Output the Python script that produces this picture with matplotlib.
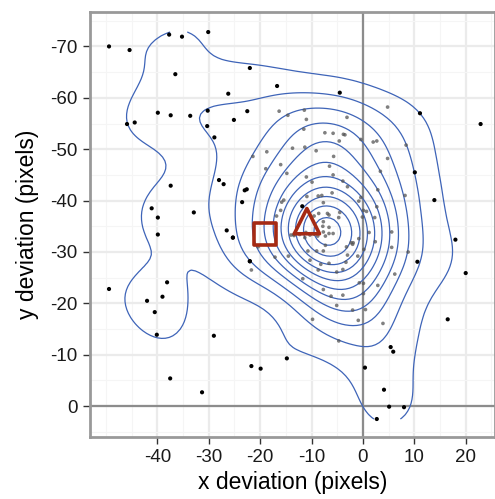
import numpy as np
import matplotlib
matplotlib.use("Agg")
import matplotlib.pyplot as plt
from matplotlib.ticker import MultipleLocator

plt.rcParams['font.family'] = ['Liberation Sans', 'DejaVu Sans']

# outer (black) points
bx = [-49.4, -45.4, -37.7, -35.2, -30.1, -36.5, -22.0, -26.2, -16.7, -39.9, -37.4, -33.6, -30.2, -22.5,
      -45.9, -44.4, -30.3, -25.1, -28.9, -37.4, -28.0, -27.1, -23.0, -22.6, -23.5, -41.1, -39.9, -39.9,
      -32.9, -26.5, -25.3, -22.0, -38.1, -49.4, -42.0, -39.0, -40.5, -40.1, -29.0, -21.7, -19.9, -14.8,
      -37.5, -31.3, -4.5, 11.1, 22.9, 10.1, 13.9, 10.6, 18.0, 20.0, 16.5, 5.4, 5.9, 0.4, 4.1, 5.1, 8.0, 2.7,
      -25.3, -22.0, -11.8]
by = [-70.0, -69.3, -72.3, -71.9, -72.8, -64.6, -65.8, -60.8, -62.3, -57.1, -56.6, -56.5, -57.5, -57.4,
      -54.9, -55.2, -54.5, -55.7, -52.3, -42.9, -44.0, -43.2, -42.0, -42.2, -39.7, -38.5, -36.7, -33.4,
      -37.7, -34.2, -32.8, -28.2, -24.1, -22.8, -20.5, -21.3, -18.3, -13.9, -13.7, -7.8, -7.3, -9.3,
      -5.4, -2.7, -61.0, -57.0, -54.9, -45.5, -40.1, -28.1, -32.4, -25.9, -16.9, -11.5, -10.6, -7.5, -3.2, 0.1, 0.2, 2.5,
      -32.8, -28.2, -38.9]

# inner (grey) points
gx = [-16.3, -14.6, -21.4, -18.7, -18.9, -16.0, -14.8, -21.7, -20.4, -17.1, 4.8, -11.4, -3.1, -11.0, -11.5,
      -7.4, -5.8, -3.8, -3.5, -0.4, 2.7, 8.4, -4.6, -13.7, -11.3, -9.1, -5.7, 4.8, -6.5, 3.4, -5.8, -11.0,
      -9.9, -3.9, -3.0, 2.9, 8.2, -8.7, -8.0, -6.0, -0.4, -0.8, 2.7, -7.7, -4.5, -6.9, -6.6, -9.5, 0.1, 0.7,
      -0.1, 2.3, -7.7, -6.6, -7.7, -7.3, -6.6, -5.8, -11.1, -10.3, -9.5, -8.8, -12.3, -13.5, -11.3, 1.2, 5.6,
      -2.3, -1.9, -0.8, 2.4, 8.8, 5.6, 0.2, -10.7, -9.0, -7.7, -3.2, -3.0, -1.0, -10.3, -8.2, -6.6, -3.3,
      -5.1, -3.9, -8.7, 6.2, -11.7, -0.7, 0.1, 2.9, -7.7, -6.2, -3.9, 0.1, -5.1, -2.0, 0.5, -0.9, -9.8, 3.9,
      -4.7, -15.8, -15.4, -16.0, -16.8, -4.7, -8.6, -14.0, -13.4, -7.8, -7.3, -14.5, -2.0, 2.0, -10.9]
gy = [-57.4, -56.6, -48.6, -49.5, -46.2, -47.0, -45.3, -26.5, -31.0, -29.0, -58.2, -57.6, -56.2, -55.8, -53.9,
      -53.2, -53.1, -52.9, -52.8, -51.9, -51.6, -50.8, -51.6, -50.2, -50.4, -49.7, -48.6, -48.2, -46.7, -45.7, -45.0, -44.6,
      -43.6, -43.8, -42.7, -42.1, -41.0, -40.9, -41.0, -41.5, -40.6, -39.9, -38.8, -39.6, -37.7, -37.5, -37.2, -37.0, -38.1, -37.9,
      -36.8, -36.7, -35.9, -34.8, -33.9, -33.1, -33.6, -33.6, -33.8, -33.3, -33.5, -33.1, -33.4, -33.4, -32.8, -33.8, -33.9,
      -31.8, -31.8, -32.6, -32.0, -30.0, -30.9, -30.5, -30.2, -30.2, -30.2, -31.0, -29.4, -29.2, -28.4, -27.6, -27.8, -28.0,
      -26.1, -26.6, -26.5, -25.7, -24.8, -24.0, -23.9, -23.5, -22.7, -21.4, -21.6, -21.9, -19.6, -18.7, -18.8, -16.7, -16.9, -16.1,
      -12.7, -39.7, -40.1, -38.1, -37.0, -36.7, -37.5, -33.3, -33.2, -35.0, -31.3, -29.2, -31.5, -51.4, -40.8]

# reference markers
sq_x, sq_y = [-19.1], [-33.5]
tri_x, tri_y = [-10.9], [-36.0]

xticks = [-40, -30, -20, -10, 0, 10, 20]
yticks = [-70, -60, -50, -40, -30, -20, -10, 0]

ax_all = np.array(bx + gx)
ay_all = np.array(by + gy)


def bw_nrd(v):
    n = len(v)
    q = np.percentile(v, [25, 75])
    h = (q[1] - q[0]) / 1.34
    return 4 * 1.06 * min(np.std(v, ddof=1), h) * n ** (-0.2)


hx = bw_nrd(ax_all) / 4 * 1.05
hy = bw_nrd(ay_all) / 4 * 1.05
gxs = np.linspace(ax_all.min(), ax_all.max(), 100)
gys = np.linspace(ay_all.min(), ay_all.max(), 100)
GX, GY = np.meshgrid(gxs, gys)
Z = np.zeros_like(GX)
for px, py in zip(ax_all, ay_all):
    Z += np.exp(-0.5 * (((GX - px) / hx) ** 2 + ((GY - py) / hy) ** 2))
Z /= (len(ax_all) * 2 * np.pi * hx * hy)

nlev = 11
step = Z.max() / (nlev + 0.5)
levels = step * np.arange(1, nlev + 1)
levels[0] = step * 0.97

fig = plt.figure(figsize=(4.95, 4.99), dpi=100)
ax = fig.add_axes([90 / 495, 1 - 437 / 499, 405 / 495, 425 / 499])

ax.set_xlim(-53.1, 25.7)
ax.set_ylim(6.0, -76.7)

ax.xaxis.set_minor_locator(MultipleLocator(5))
ax.yaxis.set_minor_locator(MultipleLocator(5))
ax.set_xticks(xticks)
ax.set_yticks(yticks)
ax.set_xticklabels([str(t) for t in xticks])
ax.set_yticklabels([str(t) for t in yticks])
ax.grid(which='major', color='#ebebeb', lw=1.6, zorder=0)
ax.grid(which='minor', color='#f5f5f5', lw=0.8, zorder=0)
ax.set_axisbelow(True)

ax.axvline(0, color='#8c8c8c', lw=1.6, zorder=1)
ax.axhline(0, color='#8c8c8c', lw=1.6, zorder=1)

ax.contour(GX, GY, Z, levels=levels, colors='#3e64b8', linewidths=0.9, zorder=2)

ax.scatter(gx, gy, s=7, color='#555555', alpha=0.75, edgecolors='none', zorder=3)
ax.scatter(bx, by, s=9, color='black', edgecolors='none', zorder=3)

ax.scatter(sq_x, sq_y, marker='s', s=260, facecolors='none', edgecolors='#a52a14', linewidths=2.6, zorder=4)
ax.scatter(tri_x, tri_y, marker='^', s=330, facecolors='none', edgecolors='#a52a14', linewidths=2.6, zorder=4)

for sp in ax.spines.values():
    sp.set_color('#999999')
    sp.set_linewidth(2)

ax.tick_params(which='major', direction='out', length=5, width=1, color='#333333',
               labelsize=13.5, labelcolor='#1a1a1a', pad=4)
ax.tick_params(which='minor', length=0)

ax.set_xlabel('x deviation (pixels)', fontsize=16.5, labelpad=3)
ax.set_ylabel('y deviation (pixels)', fontsize=16.5, labelpad=8)

fig.savefig('out.png', dpi=100)
